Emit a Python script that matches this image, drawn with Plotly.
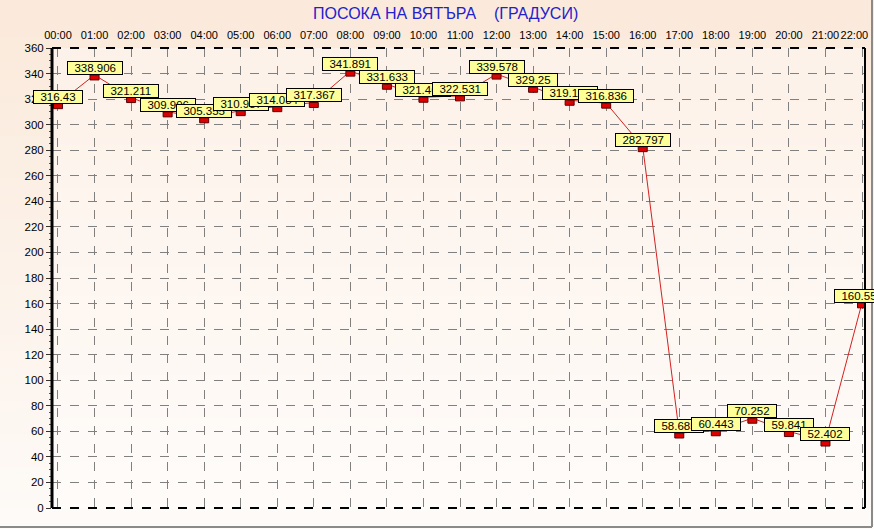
import base64
import struct
import zlib

import numpy as np
import plotly.graph_objects as go

hours = ["00:00", "01:00", "02:00", "03:00", "04:00", "05:00", "06:00", "07:00",
         "08:00", "09:00", "10:00", "11:00", "12:00", "13:00", "14:00", "15:00",
         "16:00", "17:00", "18:00", "19:00", "20:00", "21:00", "22:00"]
values = [316.43, 338.906, 321.211, 309.996, 305.355, 310.987, 314.084, 317.367,
          341.891, 331.633, 321.468, 322.531, 339.578, 329.25, 319.103, 316.836,
          282.797, 58.685, 60.443, 70.252, 59.841, 52.402, 160.555]
labels = ["316.43", "338.906", "321.211", "309.996", "305.355", "310.987", "314.084", "317.367",
          "341.891", "331.633", "321.468", "322.531", "339.578", "329.25", "319.103", "316.836",
          "282.797", "58.685", "60.443", "70.252", "59.841", "52.402", "160.555"]
y_ticks = list(range(0, 361, 20))
title_text = "ПОСОКА НА ВЯТЪРА\u00a0\u00a0\u00a0\u00a0(ГРАДУСИ)"

xs = list(range(len(hours)))
tick_text = hours[:-1] + [hours[-1] + "\u00a0" * 5]
W, H = 874, 529
L, R, T, B = 52, 865, 48, 508
FONT = "Liberation Sans, Arial"


def gradient_png(top, bottom, rows=64):
    t = np.linspace(0, 1, rows)[:, None]
    c = (np.array(top)[None, :] * (1 - t) + np.array(bottom)[None, :] * t).astype(np.uint8)
    raw = b"".join(b"\x00" + bytes(row) for row in c.reshape(rows, 3))

    def chunk(tag, data):
        return struct.pack(">I", len(data)) + tag + data + struct.pack(">I", zlib.crc32(tag + data) & 0xFFFFFFFF)

    png = (b"\x89PNG\r\n\x1a\n" + chunk(b"IHDR", struct.pack(">IIBBBBB", 1, rows, 8, 2, 0, 0, 0))
           + chunk(b"IDAT", zlib.compress(raw)) + chunk(b"IEND", b""))
    return "data:image/png;base64," + base64.b64encode(png).decode()


px = lambda p: (p - L) / (R - L)
py = lambda p: (B - p) / (B - T)

fig = go.Figure()
fig.add_trace(go.Scatter(x=xs, y=values, mode="lines",
                         line=dict(color="#d42020", width=1), hoverinfo="skip"))

shapes = []
for x, v in zip(xs, values):
    shapes.append(dict(type="rect", xref="x", yref="y", layer="above",
                       xsizemode="pixel", ysizemode="pixel", xanchor=x, yanchor=v,
                       x0=-4.5, x1=4.5, y0=-5, y1=0,
                       fillcolor="#dd0000", line=dict(color="#5a0000", width=1)))
shapes += [
    dict(type="line", xref="paper", yref="paper", x0=0, x1=0, y0=0, y1=1,
         line=dict(color="black", width=3)),
    dict(type="line", xref="paper", yref="paper", x0=1, x1=1, y0=0, y1=1,
         line=dict(color="black", width=2)),
    dict(type="line", xref="paper", yref="paper", x0=0, x1=1, y0=1, y1=1,
         line=dict(color="black", width=2, dash="dash")),
    dict(type="line", xref="paper", yref="paper", x0=0, x1=1, y0=0, y1=0,
         line=dict(color="black", width=2, dash="dash")),
    dict(type="line", xref="paper", yref="paper", x0=px(-2), x1=px(872), y0=py(527), y1=py(527),
         line=dict(color="#8a8a8a", width=2)),
    dict(type="line", xref="paper", yref="paper", x0=px(872), x1=px(872), y0=py(527), y1=py(-2),
         line=dict(color="#8a8a8a", width=2)),
]

images = [
    dict(source=gradient_png((251, 234, 219), (254, 251, 248)), xref="paper", yref="paper",
         x=px(0), y=py(0), sizex=px(W) - px(0), sizey=py(0) - py(H),
         sizing="stretch", xanchor="left", yanchor="top", layer="below"),
    dict(source=gradient_png((253, 242, 233), (255, 252, 250)), xref="paper", yref="paper",
         x=0, y=1, sizex=1, sizey=1,
         sizing="stretch", xanchor="left", yanchor="top", layer="below"),
]

for x, v, t in zip(xs, values, labels):
    fig.add_annotation(x=x, y=v, text="\u00a0\u00a0" + t + "\u00a0\u00a0", showarrow=False,
                       xanchor="center", yanchor="bottom", yshift=0,
                       bgcolor="#ffff99", bordercolor="#000000", borderwidth=1,
                       borderpad=0,
                       font=dict(family=FONT, size=11.5, color="#000000"))

fig.add_annotation(x=px(445), y=py(14), xref="paper", yref="paper",
                   text=title_text, showarrow=False, xanchor="center", yanchor="middle",
                   font=dict(family=FONT, size=16, color="#2222cc"))

fig.update_layout(
    width=W, height=H, autosize=False,
    margin=dict(l=L, r=W - R, t=T, b=H - B, pad=0),
    paper_bgcolor="#fcefe4", plot_bgcolor="rgba(0,0,0,0)",
    showlegend=False, shapes=shapes, images=images,
    font=dict(family=FONT, size=12, color="#000000"),
    xaxis=dict(range=[-0.164, 22.082], tickvals=xs, ticktext=tick_text, side="top",
               tickangle=0,
               showgrid=True, gridcolor="#808080", griddash="dash", gridwidth=1,
               zeroline=False, showline=False, ticks="", ticklen=0, automargin=False,
               ticklabeloverflow="allow", ticklabelstandoff=6,
               tickfont=dict(size=11, color="#000000")),
    yaxis=dict(range=[0, 360], tickvals=y_ticks, showgrid=True, gridcolor="#808080",
               griddash="dash", gridwidth=1, zeroline=False, showline=False,
               ticks="outside", ticklen=5, tickcolor="#333333", automargin=False,
               minor=dict(dtick=5, ticks="outside", ticklen=2, tickcolor="#555555", showgrid=False),
               tickfont=dict(size=11.5, color="#000000")),
)

fig.write_html("out.html", config={"displayModeBar": False, "staticPlot": True},
               post_script="document.body.style.margin='0';document.body.style.overflow='hidden';")
